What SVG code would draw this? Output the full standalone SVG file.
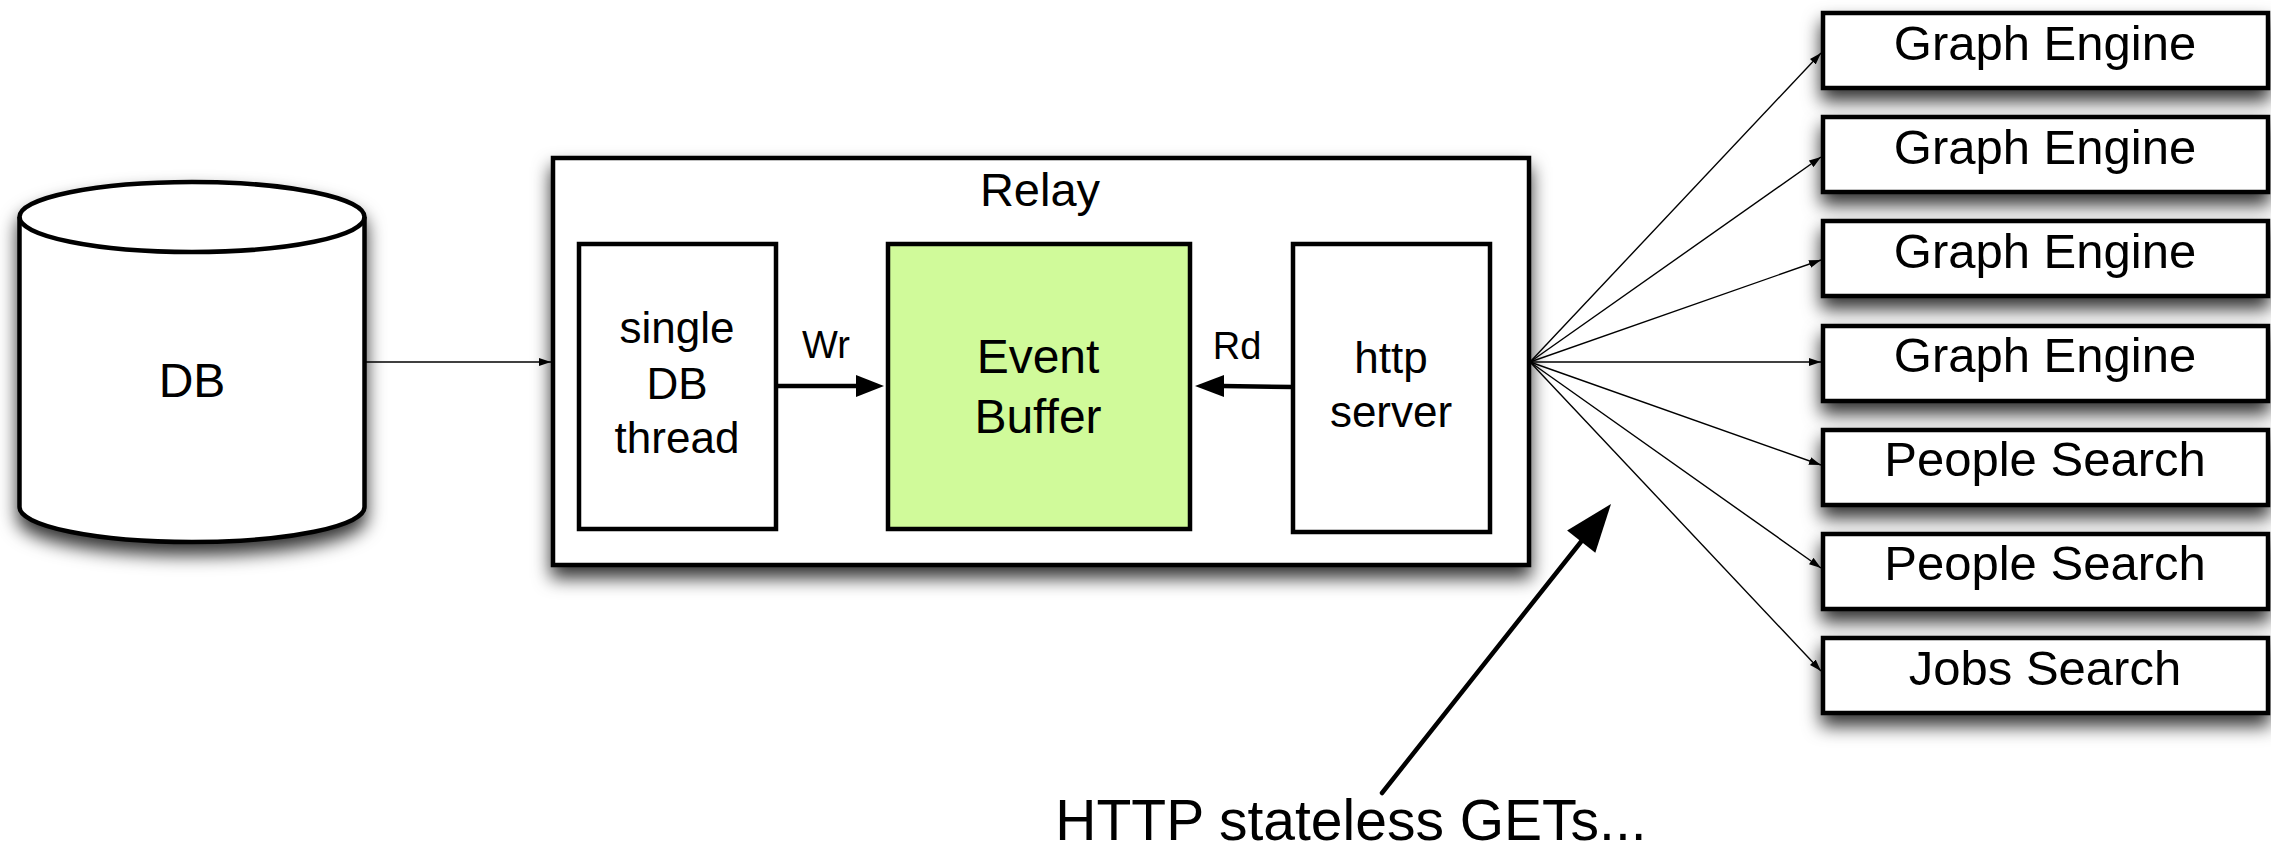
<svg xmlns="http://www.w3.org/2000/svg" width="2271" height="851" viewBox="0 0 2271 851">
<style>
text{font-family:"Liberation Sans",Arial,Helvetica,sans-serif;fill:#000;text-anchor:middle}
.box{fill:#fff;stroke:#000;stroke-width:4.5}
.thin{stroke:#000;stroke-width:1.4;fill:none}
.thick{stroke:#000;stroke-width:4.5;fill:none}
.t49{font-size:49px}
.t44{font-size:44px}
</style>
<defs>
<filter id="sh" x="-20%" y="-20%" width="140%" height="170%">
<feDropShadow dx="0" dy="11" stdDeviation="9" flood-color="#000" flood-opacity="0.8"/>
</filter>
<marker id="ah" viewBox="0 0 12 8" refX="12" refY="4" markerWidth="12" markerHeight="8" markerUnits="userSpaceOnUse" orient="auto">
<path d="M0,0 L12,4 L0,8 z" fill="#000"/>
</marker>
</defs>

<g id="db">
<path filter="url(#sh)" d="M19.5,217 A172.5,35 0 0 1 364.5,217 L364.5,507 A172.5,35 0 0 1 19.5,507 Z" fill="#fff" stroke="#000" stroke-width="4.5"/>
<path d="M19.5,217 A172.5,35 0 0 0 364.5,217" fill="none" stroke="#000" stroke-width="4.5"/>
<text x="192" y="397" style="font-size:48px">DB</text>
</g>

<g id="relay">
<rect class="box" filter="url(#sh)" x="553" y="158" width="976" height="407"/>
<text x="1040" y="206" style="font-size:47px">Relay</text>
</g>

<g id="dbthread">
<rect class="box" x="579" y="244" width="197" height="285"/>
<text class="t44" x="677" y="343">single</text>
<text class="t44" x="677" y="399">DB</text>
<text class="t44" x="677" y="453">thread</text>
</g>

<g id="eventbuffer">
<rect x="888" y="244" width="302" height="285" fill="#d0fa9a" stroke="#000" stroke-width="4.5"/>
<text x="1038" y="373" style="font-size:48px">Event</text>
<text x="1038" y="433" style="font-size:48px">Buffer</text>
</g>

<g id="httpserver">
<rect class="box" x="1293" y="244" width="197" height="288"/>
<text class="t44" x="1391" y="373">http</text>
<text class="t44" x="1391" y="427">server</text>
</g>

<g id="ge1"><rect class="box" filter="url(#sh)" x="1823" y="13" width="445" height="75"/><text class="t49" x="2045" y="60">Graph Engine</text></g>
<g id="ge2"><rect class="box" filter="url(#sh)" x="1823" y="117" width="445" height="75"/><text class="t49" x="2045" y="164">Graph Engine</text></g>
<g id="ge3"><rect class="box" filter="url(#sh)" x="1823" y="221" width="445" height="75"/><text class="t49" x="2045" y="268">Graph Engine</text></g>
<g id="ge4"><rect class="box" filter="url(#sh)" x="1823" y="326" width="445" height="75"/><text class="t49" x="2045" y="372">Graph Engine</text></g>
<g id="ps1"><rect class="box" filter="url(#sh)" x="1823" y="430" width="445" height="75"/><text class="t49" x="2045" y="476">People Search</text></g>
<g id="ps2"><rect class="box" filter="url(#sh)" x="1823" y="534" width="445" height="75"/><text class="t49" x="2045" y="580">People Search</text></g>
<g id="js"><rect class="box" filter="url(#sh)" x="1823" y="638" width="445" height="75"/><text class="t49" x="2045" y="685">Jobs Search</text></g>

<g id="connectors">
<line class="thin" x1="366" y1="362" x2="551" y2="362" marker-end="url(#ah)"/>
<line class="thick" x1="777" y1="386" x2="858" y2="386"/>
<polygon points="884,386 856,375 856,397" fill="#000"/>
<text x="826" y="358" style="font-size:38px">Wr</text>
<line class="thick" x1="1293" y1="387" x2="1222" y2="386"/>
<polygon points="1195,386 1224,375 1224,397" fill="#000"/>
<text x="1237" y="359" style="font-size:38px">Rd</text>
<line class="thin" x1="1530" y1="362" x2="1821" y2="53" marker-end="url(#ah)"/>
<line class="thin" x1="1530" y1="362" x2="1821" y2="157" marker-end="url(#ah)"/>
<line class="thin" x1="1530" y1="362" x2="1821" y2="260" marker-end="url(#ah)"/>
<line class="thin" x1="1530" y1="362" x2="1821" y2="362" marker-end="url(#ah)"/>
<line class="thin" x1="1530" y1="362" x2="1821" y2="465" marker-end="url(#ah)"/>
<line class="thin" x1="1530" y1="362" x2="1821" y2="568" marker-end="url(#ah)"/>
<line class="thin" x1="1530" y1="362" x2="1821" y2="671" marker-end="url(#ah)"/>
<line class="thick" x1="1382" y1="793" x2="1584" y2="538" stroke-linecap="round"/>
<polygon points="1611,504 1595.3,552.8 1567.1,530.4" fill="#000"/>
</g>

<g id="note">
<text x="1351" y="840" style="font-size:57px">HTTP stateless GETs...</text>
</g>
</svg>
